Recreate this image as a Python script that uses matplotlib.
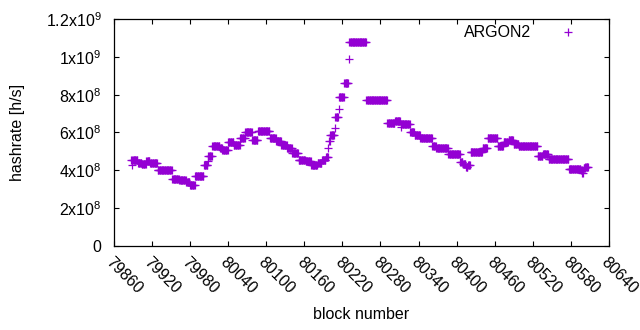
import numpy as np
import matplotlib.pyplot as plt

plt.rcParams['font.family'] = ['Liberation Sans', 'DejaVu Sans']
plt.rcParams['mathtext.default'] = 'regular'

# hashrate stays the same over runs of blocks: first block of each run and its value (x10^8 h/s)
run_start = [79887, 79888, 79889, 79898, 79904, 79911, 79917, 79929, 79952, 79963,
             79974, 79980, 79988, 80002, 80008, 80009, 80015, 80027, 80031, 80040,
             80049, 80059, 80067, 80078, 80087, 80106, 80116, 80124, 80133, 80141,
             80151, 80162, 80171, 80181, 80188, 80194, 80198, 80199, 80201, 80208,
             80209, 80214, 80215, 80223, 80230, 80231, 80258, 80291, 80303, 80312,
             80313, 80327, 80334, 80343, 80362, 80368, 80387, 80406, 80410, 80415,
             80418, 80422, 80441, 80449, 80465, 80474, 80482, 80490, 80498, 80528,
             80536, 80545, 80577, 80596, 80598, 80600, 80603]
run_value = [4.55, 4.30, 4.55, 4.40, 4.33, 4.50, 4.40, 4.00, 3.55, 3.48,
             3.38, 3.20, 3.70, 4.30, 4.50, 4.75, 5.30, 5.20, 5.10, 5.50,
             5.35, 5.70, 6.00, 5.60, 6.10, 5.70, 5.55, 5.35, 5.20, 4.90,
             4.55, 4.50, 4.30, 4.40, 4.55, 4.70, 5.20, 5.55, 5.85, 6.25,
             6.80, 7.25, 7.90, 8.60, 9.90, 10.80, 7.70, 6.50, 6.60, 6.30,
             6.45, 6.00, 5.85, 5.70, 5.30, 5.20, 4.85, 4.45, 4.35, 4.20,
             4.30, 4.95, 5.20, 5.70, 5.30, 5.50, 5.60, 5.40, 5.30, 4.75,
             4.85, 4.60, 4.07, 4.00, 3.85, 4.10, 4.20]
last_block = 80607

run_len = np.diff(run_start + [last_block + 1])
blocks = np.arange(run_start[0], last_block + 1)
hashrate = np.repeat(run_value, run_len) * 1e8

xticks = list(range(79860, 80641, 60))
yticks = [0, 2e8, 4e8, 6e8, 8e8, 1e9, 1.2e9]
ytick_labels = ['0', '2x10$^{8}$', '4x10$^{8}$', '6x10$^{8}$', '8x10$^{8}$', '1x10$^{9}$', '1.2x10$^{9}$']

fig = plt.figure(figsize=(6.4, 3.3), dpi=100)
ax = fig.add_axes([0.178, 0.2545, 0.7734, 0.688])

ax.plot(blocks, hashrate, linestyle='none', marker='+', markersize=5.2,
        markeredgewidth=0.9, color='#9400d3', label='ARGON2')

ax.set_xlim(79860, 80640)
ax.set_ylim(0, 1.2e9)
ax.set_xticks(xticks)
ax.set_xticklabels([str(t) for t in xticks], rotation=-45, ha='left', va='top',
                   rotation_mode='anchor')
ax.set_yticks(yticks)
ax.set_yticklabels(ytick_labels)
ax.tick_params(direction='in', length=3.5, width=0.8, top=True, right=True,
               labelsize=11.5, colors='black')
ax.tick_params(axis='x', pad=6)
ax.tick_params(axis='y', pad=9)
for s in ax.spines.values():
    s.set_linewidth(0.9)

ax.set_xlabel('block number', fontsize=11.5)
ax.set_ylabel('hashrate [h/s]', fontsize=11.5)
ax.xaxis.set_label_coords(0.5, -0.27)
ax.yaxis.set_label_coords(-0.18, 0.5)

ax.legend(loc='upper right', markerfirst=False, frameon=False, fontsize=11.5,
          handlelength=1.5, handletextpad=1.6, borderaxespad=0.3,
          bbox_to_anchor=(0.965, 1.022))

fig.savefig('out.png', dpi=100)
